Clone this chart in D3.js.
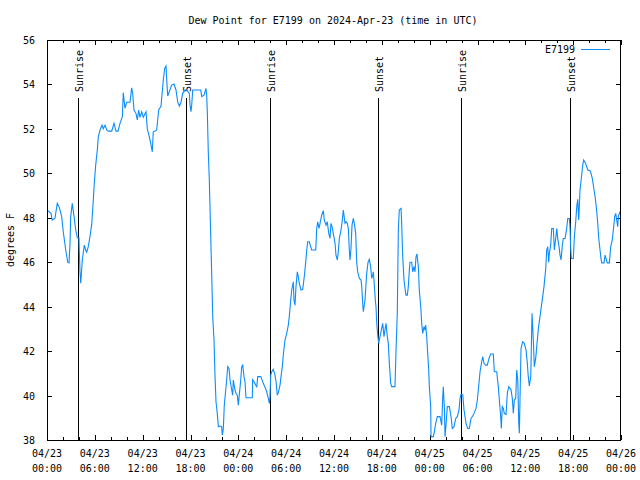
<!DOCTYPE html>
<html>
<head>
<meta charset="utf-8">
<script src="https://cdn.jsdelivr.net/npm/d3@7"></script>
<style>
  body { margin: 0; background: #fff; }
  text { font-family: "DejaVu Sans Mono", monospace; font-size: 10px; fill: #000; }
</style>
</head>
<body>
<script>
// Hours since 2024-04-23 00:00 UTC
const hours = [
0.00,0.16,0.50,0.66,1.00,1.29,1.54,1.84,2.04,2.35,2.60,2.76,2.89,2.97,3.17,3.39,3.60,3.80,4.01,4.05,
4.14,4.23,4.30,4.43,4.68,4.85,4.98,5.18,5.39,5.61,5.81,5.93,6.11,6.31,6.44,6.65,6.90,7.06,7.28,7.49,
7.69,8.12,8.40,8.66,8.91,9.16,9.45,9.57,9.78,10.00,10.41,10.62,10.75,10.91,11.16,11.33,11.50,11.67,11.88,12.08,
12.42,12.58,12.83,13.05,13.21,13.33,13.55,13.76,14.01,14.30,14.59,14.76,14.93,15.02,15.14,15.34,15.64,15.93,16.18,16.40,
16.60,16.81,17.02,17.31,17.60,17.85,17.94,18.06,18.15,18.28,19.28,19.41,19.69,19.94,20.03,20.11,20.23,20.36,20.74,20.79,
20.95,21.07,21.20,21.36,21.49,21.70,21.91,21.99,22.12,22.24,22.42,22.54,22.67,22.83,22.96,23.17,23.29,23.37,23.58,23.71,
23.87,24.00,24.12,24.30,24.42,24.55,24.71,24.84,24.96,25.75,25.80,25.97,26.18,26.31,26.43,26.81,26.93,27.13,27.35,27.56,
27.76,27.89,27.97,28.06,28.19,28.39,28.60,28.73,28.89,29.01,29.23,29.35,29.52,29.64,29.85,30.07,30.27,30.39,30.57,30.70,
30.82,30.90,30.98,31.11,31.23,31.40,31.52,31.65,31.86,32.08,32.28,32.45,32.58,32.70,32.90,33.08,33.20,33.71,33.83,33.96,
34.12,34.25,34.46,34.66,34.78,35.00,35.16,35.34,35.50,35.62,35.75,35.91,36.13,36.25,36.42,36.54,36.67,36.84,37.00,37.17,
37.38,37.51,37.67,37.80,37.92,38.01,38.13,38.26,38.42,38.55,38.72,38.85,38.97,39.18,39.39,39.48,39.60,39.68,39.89,40.10,
40.27,40.43,40.60,40.73,40.86,40.93,41.06,41.18,41.27,41.36,41.48,41.61,41.77,41.98,42.11,42.27,42.52,42.69,42.81,42.94,
43.11,43.24,43.65,43.78,43.94,44.07,44.19,44.41,44.49,44.62,44.78,44.91,45.03,45.20,45.32,45.45,45.53,45.75,45.87,46.04,
46.16,46.29,46.41,46.58,46.70,46.88,47.00,47.13,47.29,47.42,47.50,47.63,47.75,47.88,47.96,48.13,48.17,48.46,48.58,48.76,
48.96,49.21,49.30,49.51,49.64,49.71,49.84,49.93,50.05,50.21,50.47,50.68,50.84,51.05,51.27,51.47,51.68,51.81,51.93,52.15,
52.31,52.56,52.77,52.97,53.19,53.48,53.81,53.98,54.10,54.32,54.53,54.65,54.82,55.03,55.23,55.44,55.66,55.98,56.11,56.41,
56.61,56.74,56.91,56.99,57.11,57.24,57.36,57.58,57.74,57.92,58.20,58.37,58.49,58.62,58.79,58.92,59.05,59.17,59.25,59.33,
59.46,59.67,59.87,60.09,60.25,60.37,60.50,60.68,60.84,61.00,61.13,61.30,61.43,61.63,61.84,62.06,62.18,62.34,62.56,62.68,
62.81,62.93,63.01,63.18,63.31,63.51,63.64,63.81,63.94,64.06,64.23,64.35,64.48,64.64,64.77,64.98,65.19,65.32,65.52,65.61,
65.69,65.77,66.02,66.15,66.32,66.45,66.57,66.70,66.86,67.02,67.20,67.32,67.52,67.70,67.83,68.11,68.24,68.40,68.62,68.78,
68.96,69.08,69.21,69.37,69.49,69.58,69.87,70.00,70.12,70.28,70.54,70.71,70.91,71.04,71.21,71.34,71.46,71.59,71.66,71.88,
72.00
];
// Dew point, degrees F
const dewPoint = [
48.3,48.3,48.2,47.9,47.98,48.65,48.47,48.05,47.37,46.55,46.0,45.97,46.86,48.05,48.65,48.05,47.45,47.1,47.1,46.55,
45.57,45.05,45.4,46.1,46.77,46.55,46.45,46.7,47.15,47.7,48.8,49.55,50.38,51.05,51.65,51.95,52.17,52.0,52.17,51.95,
51.9,51.9,52.25,51.9,51.9,52.25,52.55,53.63,52.93,53.2,53.2,53.85,53.6,52.85,52.7,52.4,52.85,52.52,52.77,52.52,
52.77,52.0,51.65,51.27,50.97,51.87,51.9,51.95,52.85,53.03,54.2,54.72,54.83,54.2,53.48,53.67,53.97,54.02,53.75,53.2,
53.03,53.2,53.6,53.75,53.72,53.6,53.07,52.77,53.07,53.75,53.75,53.45,53.52,53.82,53.52,52.77,50.97,49.7,44.3,43.55,
42.5,40.92,39.72,39.2,38.6,38.63,38.6,38.22,38.52,39.57,40.25,40.7,41.3,41.22,40.7,40.25,40.02,40.7,40.25,40.1,
40.02,39.57,40.02,40.7,41.3,41.37,40.85,40.62,39.9,39.9,40.72,40.62,40.47,40.4,40.85,40.85,40.75,40.55,40.37,40.17,
39.87,39.65,39.95,40.92,41.07,41.18,40.92,40.62,40.02,40.12,40.47,40.85,41.3,41.82,42.5,42.8,43.17,43.55,44.3,44.75,
44.97,45.12,44.3,44.07,44.9,45.57,45.35,45.05,44.75,44.78,45.38,46.0,46.55,46.92,46.92,46.7,46.55,46.55,47.52,47.82,
47.52,47.75,48.12,48.32,47.9,47.67,47.82,47.3,47.07,47.75,47.6,47.3,46.85,46.32,46.1,46.47,47.07,47.37,47.75,48.35,
47.75,47.82,47.75,47.52,46.55,46.1,46.62,47.67,47.97,47.75,47.3,46.0,45.57,45.27,45.2,44.9,44.15,43.77,44.3,45.5,
46.0,46.13,45.8,45.27,45.42,45.57,44.97,44.3,44.0,43.25,42.72,42.35,42.65,43.02,43.25,42.65,43.25,42.65,42.35,41.45,
40.55,40.4,40.4,42.05,43.7,47.45,48.35,48.42,47.75,46.25,45.2,44.82,44.52,44.52,44.9,45.65,46.0,46.0,45.57,45.8,
45.57,46.25,46.37,45.8,44.75,44.0,43.25,42.8,43.1,42.95,43.17,42.65,41.9,41.15,40.4,39.5,38.15,38.15,38.37,38.75,
39.05,39.05,39.05,38.67,39.95,40.4,39.5,38.15,38.67,39.5,39.5,39.05,38.52,38.6,38.97,39.05,39.35,39.87,40.05,40.05,
39.35,38.75,38.52,38.52,38.97,39.12,39.42,39.8,40.25,41.07,41.52,41.75,41.45,41.37,41.37,41.67,41.87,41.87,41.07,41.07,
40.4,39.8,39.05,38.52,39.5,39.42,39.2,39.15,40.1,40.4,40.27,39.87,39.2,39.8,39.87,41.15,40.7,38.82,38.3,39.8,
42.12,42.42,42.35,42.05,41.45,40.85,40.43,40.85,43.7,42.5,41.3,41.67,42.2,43.0,43.55,44.15,44.45,44.9,45.72,46.55,
46.7,46.0,46.4,46.77,47.52,47.52,46.55,47.07,47.52,47.07,46.7,46.32,46.1,46.77,47.07,47.07,47.52,47.97,47.97,47.52,
46.62,46.17,46.17,47.15,47.82,48.5,48.83,47.9,49.25,49.77,50.38,50.6,50.48,50.3,50.15,50.12,50.0,49.77,49.25,48.88,
48.27,47.75,47.07,46.55,46.17,45.97,45.97,46.32,46.17,45.97,45.97,46.7,47.0,47.45,48.05,48.2,47.9,47.6,48.05,48.27,
48.27
];
const sunHours = [3.95, 17.50, 28.01, 41.56, 51.97, 65.64];
const sunLabels = ["Sunrise", "Sunset", "Sunrise", "Sunset", "Sunrise", "Sunset"];
const yTicks = [38, 40, 42, 44, 46, 48, 50, 52, 54, 56];
const xMajor = [0, 6, 12, 18, 24, 30, 36, 42, 48, 54, 60, 66, 72];
const xMinor = [2, 4, 8, 10, 14, 16, 20, 22, 26, 28, 32, 34, 38, 40, 44, 46, 50, 52, 56, 58, 62, 64, 68, 70];
const xDateLabels = ["04/23","04/23","04/23","04/23","04/24","04/24","04/24","04/24","04/25","04/25","04/25","04/25","04/26"];
const xTimeLabels = ["00:00","06:00","12:00","18:00","00:00","06:00","12:00","18:00","00:00","06:00","12:00","18:00","00:00"];
const seriesName = "E7199";
const titleText = "Dew Point for E7199 on 2024-Apr-23 (time in UTC)";
const yLabel = "degrees F";

const W = 640, H = 480;
const L = 47, R = 621, T = 40, B = 440;
const color = "#0a8cff";

const svg = d3.select("body").append("svg").attr("width", W).attr("height", H);
svg.append("rect").attr("width", W).attr("height", H).attr("fill", "#fff");

const x = d3.scaleLinear().domain([0, 72]).range([L, R]);
const y = d3.scaleLinear().domain([38, 56]).range([B, T]);

function styleAxis(g) {
  g.select(".domain").remove();
  g.selectAll(".tick line").attr("stroke", "#000").attr("shape-rendering", "crispEdges");
}
svg.append("g").attr("transform", `translate(0,${B})`)
  .call(d3.axisBottom(x).tickValues(xMajor).tickSize(-5).tickFormat(""))
  .call(styleAxis);
svg.append("g").attr("transform", `translate(0,${B})`)
  .call(d3.axisBottom(x).tickValues(xMinor).tickSize(-3).tickFormat(""))
  .call(styleAxis);
svg.append("g").attr("transform", `translate(0,${T})`)
  .call(d3.axisTop(x).tickValues(xMajor).tickSize(-5).tickFormat(""))
  .call(styleAxis);
svg.append("g").attr("transform", `translate(0,${T})`)
  .call(d3.axisTop(x).tickValues(xMinor).tickSize(-3).tickFormat(""))
  .call(styleAxis);
const yl = svg.append("g").attr("transform", `translate(${L},0)`)
  .call(d3.axisLeft(y).tickValues(yTicks).tickSize(-5).tickPadding(12))
  .call(styleAxis);
yl.selectAll(".tick text").attr("font-family", "DejaVu Sans Mono").attr("font-size", 10).attr("fill", "#000").attr("dy", "0.35em");
svg.append("g").attr("transform", `translate(${R},0)`)
  .call(d3.axisRight(y).tickValues(yTicks).tickSize(-5).tickFormat(""))
  .call(styleAxis);

const xl = svg.append("g");
xMajor.forEach((h, i) => {
  const t = xl.append("text").attr("text-anchor", "middle");
  t.append("tspan").attr("x", x(h)).attr("y", 457).text(xDateLabels[i]);
  t.append("tspan").attr("x", x(h)).attr("y", 472).text(xTimeLabels[i]);
});

sunHours.forEach((h, i) => {
  const px = Math.floor(x(h)) + 0.5;
  svg.append("line").attr("x1", px).attr("x2", px).attr("y1", 98).attr("y2", B)
    .attr("stroke", "#000").attr("stroke-width", 1);
  svg.append("text")
    .attr("transform", `translate(${px + 4},92) rotate(-90)`)
    .attr("text-anchor", "start")
    .text(sunLabels[i]);
});

svg.append("clipPath").attr("id", "clip").append("rect")
  .attr("x", L).attr("y", T).attr("width", R - L).attr("height", B - T);
const pts = hours.map((h, i) => [h, dewPoint[i]]);
svg.append("path").datum(pts)
  .attr("clip-path", "url(#clip)")
  .attr("fill", "none").attr("stroke", color).attr("stroke-width", 1.1)
  .attr("d", d3.line().x(d => x(d[0])).y(d => y(d[1])));

svg.append("rect").attr("x", L + 0.5).attr("y", T + 0.5).attr("width", R - L - 1).attr("height", B - T)
  .attr("fill", "none").attr("stroke", "#000").attr("shape-rendering", "crispEdges");

svg.append("text").attr("x", 333).attr("y", 24).attr("text-anchor", "middle").text(titleText);

svg.append("text").attr("transform", "translate(14,240) rotate(-90)").attr("text-anchor", "middle").text(yLabel);

svg.append("text").attr("x", 575).attr("y", 53).attr("text-anchor", "end").text(seriesName);
svg.append("line").attr("x1", 581).attr("x2", 610).attr("y1", 49.5).attr("y2", 49.5)
  .attr("stroke", color).attr("stroke-width", 1);
</script>
</body>
</html>
